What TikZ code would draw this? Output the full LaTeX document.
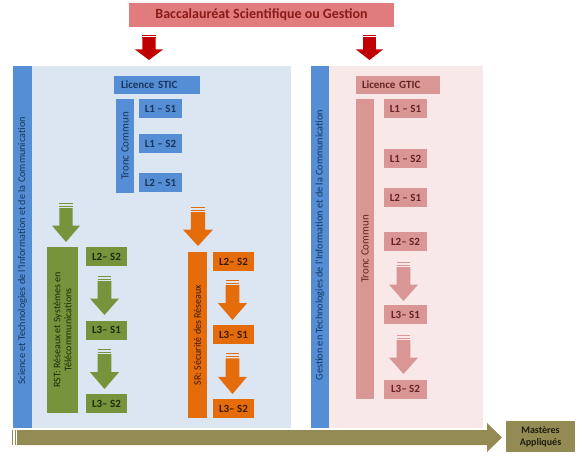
\documentclass[tikz,border=0pt]{standalone}
\usepackage{fontspec}
\setmainfont{Carlito}
\definecolor{bacfill}{HTML}{E07C7E}
\definecolor{bactext}{HTML}{8B1A1A}
\definecolor{redarr}{HTML}{C00000}
\definecolor{bluebg}{HTML}{DCE6F2}
\definecolor{pinkbg}{HTML}{F9E8E8}
\definecolor{bluebar}{HTML}{558ED5}
\definecolor{bluetext}{HTML}{17375E}
\definecolor{pinkbox}{HTML}{D99694}
\definecolor{pinktext}{HTML}{632523}
\definecolor{greenbox}{HTML}{77933C}
\definecolor{greentext}{HTML}{1E2A0C}
\definecolor{orangebox}{HTML}{E46C0A}
\definecolor{orangetext}{HTML}{3B1A00}
\definecolor{olive}{HTML}{948A54}
\definecolor{olivetext}{HTML}{1E1C10}
% striped down block arrow: cx, top, bottom, width, colour
\newcommand\stripedDown[5]{%
  \pgfmathsetmacro\ah{#3-#2}%
  \fill[#5] ({#1-0.24*#4},{#2}) rectangle ({#1+0.24*#4},{#2+0.035*\ah});
  \fill[#5] ({#1-0.24*#4},{#2+0.07*\ah}) rectangle ({#1+0.24*#4},{#2+0.10*\ah});
  \fill[#5] ({#1-0.24*#4},{#2+0.13*\ah}) -- ({#1+0.24*#4},{#2+0.13*\ah})
     -- ({#1+0.24*#4},{#2+0.58*\ah}) -- ({#1+0.5*#4},{#2+0.58*\ah})
     -- ({#1},{#3}) -- ({#1-0.5*#4},{#2+0.58*\ah})
     -- ({#1-0.24*#4},{#2+0.58*\ah}) -- cycle;
}
\begin{document}
\begin{tikzpicture}[x=1pt,y=-1pt,
  box/.style={inner sep=0pt, font=\bfseries\fontsize{11}{13}\selectfont},
  bluebox/.style={box, fill=bluebar, text=bluetext},
  pinkb/.style={box, fill=pinkbox, text=pinktext},
  greenb/.style={box, fill=greenbox, text=greentext},
  orangeb/.style={box, fill=orangebox, text=orangetext},
  sem/.style={minimum width=43, minimum height=19},
  vtext/.style={rotate=90, inner sep=0pt, font=\fontsize{10.2}{12}\selectfont},
]
\useasboundingbox (0,0) rectangle (584,465);
\fill[white] (0,0) rectangle (584,465);

% top
\node[box, fill=bacfill, text=bactext, minimum width=265, minimum height=24,
      font=\bfseries\fontsize{14}{16}\selectfont] (bac) at (261.5,15) {Baccalauréat Scientifique ou Gestion};
\stripedDown{149}{35}{60}{28}{redarr}
\stripedDown{369.5}{35}{60}{27}{redarr}

% left panel
\fill[bluebg] (13,66) rectangle (291,428);
\fill[bluebar] (13,66) rectangle (32,428);
\node[vtext, text=bluetext] (stic) at (22.5,251) {Science et Technologies de l'Information et de la Communication};

\node[bluebox, text width=72, inner xsep=7, align=left, minimum height=18] (licS) at (157,85) {Licence STIC};
\node[bluebox, minimum width=18, minimum height=94] (tcS) at (125,146) {};
\node[vtext, text=bluetext, font=\fontsize{11}{13}\selectfont] at (tcS) {Tronc Commun};
\node[bluebox, sem] (s11) at (160.5,109) {L1 – S1};
\node[bluebox, sem] (s12) at (160.5,144) {L1 – S2};
\node[bluebox, sem] (s21) at (160.5,182.5) {L2 – S1};

% green branch
\stripedDown{66}{203}{242}{28}{greenbox}
\node[greenb, minimum width=31, minimum height=166] (rst) at (62.5,330) {};
\node[vtext, text=greentext, align=center, font=\fontsize{10}{11}\selectfont] at (rst) {RST: Réseaux et Systèmes en\\Télécommunications};
\node[greenb, sem, minimum width=41] (g22) at (106.5,256.5) {L2– S2};
\stripedDown{104.5}{276}{315}{29}{greenbox}
\node[greenb, sem, minimum width=41] (g31) at (106.5,330) {L3– S1};
\stripedDown{104.5}{349}{389}{29}{greenbox}
\node[greenb, sem, minimum width=41] (g32) at (106.5,403.5) {L3– S2};

% orange branch
\stripedDown{198}{207}{246}{30}{orangebox}
\node[orangeb, minimum width=19, minimum height=166] (sr) at (197.5,335) {};
\node[vtext, text=orangetext, font=\fontsize{10}{11}\selectfont] at (sr) {SR: Sécurité des Réseaux};
\node[orangeb, sem, minimum width=41] (o22) at (233.5,261.5) {L2– S2};
\stripedDown{232.5}{280}{320}{29}{orangebox}
\node[orangeb, sem, minimum width=41] (o31) at (233.5,334.5) {L3– S1};
\stripedDown{232.5}{353}{394}{29}{orangebox}
\node[orangeb, sem, minimum width=41] (o32) at (233.5,408.5) {L3– S2};

% right panel
\fill[pinkbg] (329,66) rectangle (483,428);
\fill[bluebar] (311,66) rectangle (329,428);
\node[vtext, text=bluetext] (gtic) at (320,245) {Gestion en Technologies de l'Information et de la Communication};

\node[pinkb, text width=72, inner xsep=6, align=left, minimum height=18] (licG) at (398,85) {Licence GTIC};
\node[pinkb, minimum width=18, minimum height=300] (tcG) at (365,249) {};
\node[vtext, text=pinktext, font=\fontsize{11}{13}\selectfont] at (tcG) {Tronc Commun};
\node[pinkb, sem] (p11) at (405.5,109) {L1 – S1};
\node[pinkb, sem] (p12) at (405.5,159) {L1 – S2};
\node[pinkb, sem] (p21) at (405.5,197.5) {L2 – S1};
\node[pinkb, sem] (p22) at (405.5,241.5) {L2– S2};
\stripedDown{403.5}{262}{301}{29}{pinkbox}
\node[pinkb, sem] (p31) at (405.5,314.5) {L3– S1};
\stripedDown{403.5}{335}{374}{29}{pinkbox}
\node[pinkb, sem] (p32) at (405.5,389) {L3– S2};

% bottom arrow
\fill[olive] (12,430) rectangle (13.3,445);
\fill[olive] (14.5,430) rectangle (15.8,445);
\fill[olive] (17,430) -- (487,430) -- (487,423) -- (502,437.5) -- (487,452) -- (487,445) -- (17,445) -- cycle;
\node[box, fill=olive, text=olivetext, minimum width=69, minimum height=31, align=center,
      font=\bfseries\fontsize{10}{12}\selectfont] (mast) at (540.5,436.5) {Mastères\\Appliqués};
\end{tikzpicture}
\end{document}
